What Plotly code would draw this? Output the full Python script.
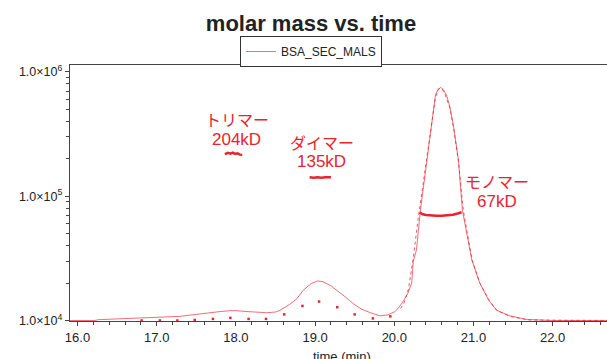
import plotly.graph_objects as go

# ---------------- data ----------------
# Light-scattering chromatogram (solid trace)
ls_time = [15.90, 16.22, 16.26, 16.70, 17.00, 17.29, 17.55, 17.67, 17.80, 17.93, 18.00,
           18.14, 18.39, 18.50, 18.56, 18.68, 18.77, 18.85, 18.95, 19.03, 19.10, 19.20,
           19.27, 19.38, 19.48, 19.58, 19.69, 19.82, 19.92, 20.01, 20.06, 20.11, 20.17,
           20.22, 20.24, 20.28, 20.33, 20.41, 20.47, 20.52, 20.55, 20.586, 20.62, 20.66,
           20.70, 20.75, 20.81, 20.86, 20.98, 21.08, 21.19, 21.29, 21.46, 21.67, 22.00, 22.70]
ls_signal = [1.0e4, 1.0e4, 1.015e4, 1.04e4, 1.06e4, 1.08e4, 1.13e4, 1.16e4, 1.18e4, 1.2e4, 1.2e4,
             1.18e4, 1.155e4, 1.17e4, 1.21e4, 1.35e4, 1.5e4, 1.75e4, 1.98e4, 2.08e4, 2.05e4, 1.9e4,
             1.76e4, 1.55e4, 1.37e4, 1.24e4, 1.16e4, 1.09e4, 1.11e4, 1.18e4, 1.28e4, 1.42e4, 1.65e4,
             2.0e4, 3.0e4, 3.7e4, 7.7e4, 1.95e5, 3.6e5, 6.5e5, 7.2e5, 7.5e5, 7.2e5, 6.5e5,
             5.3e5, 3.6e5, 1.95e5, 7.7e4, 3.05e4, 2.0e4, 1.46e4, 1.21e4, 1.09e4, 1.02e4, 1.0e4, 1.0e4]

# Concentration chromatogram (sparse dots on the baseline, dotted line at the main peak)
ri_dot_time = [16.81, 17.04, 17.26, 17.48, 17.71, 17.93, 18.16, 18.38, 18.61, 18.84,
               19.05, 19.28, 19.50, 19.73, 19.95]
ri_dot_signal = [1.0e4, 1.0e4, 1.0e4, 1.01e4, 1.03e4, 1.05e4, 1.03e4, 1.03e4, 1.12e4, 1.31e4,
                 1.42e4, 1.28e4, 1.12e4, 1.04e4, 1.08e4]
ri_peak_time = [20.08, 20.12, 20.18, 20.24, 20.30, 20.35, 20.41, 20.47, 20.52, 20.56, 20.60,
                20.64, 20.70, 20.75, 20.81, 20.87, 20.98, 21.08, 21.20, 21.30, 21.46, 21.70, 22.70]
ri_peak_signal = [1.25e4, 1.37e4, 1.8e4, 3.2e4, 6.5e4, 1.1e5, 2.1e5, 3.7e5, 6.3e5, 7.3e5, 7.4e5,
                  6.6e5, 5.2e5, 3.5e5, 1.9e5, 7.8e4, 3.1e4, 2.0e4, 1.45e4, 1.2e4, 1.08e4, 1.01e4, 1.0e4]

# Molar mass across the three peaks (g/mol)
trimer_time = [17.86, 17.90, 17.93, 17.96, 17.99, 18.02, 18.05, 18.08]
trimer_mass = [2.18e5, 2.23e5, 2.20e5, 2.24e5, 2.19e5, 2.21e5, 2.16e5, 2.15e5]
dimer_time = [18.93, 18.98, 19.03, 19.08, 19.13, 19.18, 19.20]
dimer_mass = [1.42e5, 1.41e5, 1.42e5, 1.41e5, 1.42e5, 1.41e5, 1.42e5]
monomer_time = [20.32, 20.36, 20.40, 20.46, 20.53, 20.60, 20.67, 20.74, 20.80, 20.85]
monomer_mass = [7.4e4, 7.15e4, 7.05e4, 6.98e4, 6.95e4, 6.97e4, 7.02e4, 7.1e4, 7.25e4, 7.42e4]

# Labels
peak_names = ["トリマー", "ダイマー", "モノマー"]
peak_masses = ["204kD", "135kD", "67kD"]

y_tickvals = [1e4, 1e5, 1e6]
y_ticktext = ["1.0×10<sup>4</sup>", "1.0×10<sup>5</sup>", "1.0×10<sup>6</sup>"]
y_minor = [m * d for d in (1e4, 1e5) for m in range(2, 10)]

# ---------------- figure ----------------
RED = "#e8232d"
FONT = "Liberation Sans, Arial, Helvetica, sans-serif"
JFONT = "Liberation Sans, Noto Sans CJK JP, sans-serif"

fig = go.Figure()
fig.add_trace(go.Scatter(x=ls_time, y=ls_signal, mode="lines", name="BSA_SEC_MALS",
                         line=dict(color="rgba(236,60,75,0.75)", width=1), showlegend=True))
fig.add_trace(go.Scatter(x=ri_peak_time, y=ri_peak_signal, mode="lines",
                         line=dict(color="rgba(236,40,55,0.8)", width=1, dash="dot"), showlegend=False))
fig.add_trace(go.Scatter(x=ri_dot_time, y=ri_dot_signal, mode="markers",
                         marker=dict(color=RED, size=2.5, symbol="square"), showlegend=False))
for tt, mm in ((trimer_time, trimer_mass), (dimer_time, dimer_mass), (monomer_time, monomer_mass)):
    fig.add_trace(go.Scatter(x=tt, y=mm, mode="lines", line=dict(color=RED, width=2.5),
                             showlegend=False))

W, H = 607, 359
L, R, T, B = 70, 0, 65, 38
pw, ph = W - L - R, H - T - B


def px(xp):
    return (xp - L) / pw


def py(yp):
    return (H - B - yp) / ph


label_pos = [((236.7, 120.0), (236.7, 139.0)),
             ((321.7, 143.3), (321.7, 161.7)),
             ((496.5, 182.3), (496.5, 201.7))]
for name, mass, (p1, p2) in zip(peak_names, peak_masses, label_pos):
    fig.add_annotation(x=px(p1[0]), y=py(p1[1]), xref="paper", yref="paper", text=name,
                       showarrow=False, font=dict(family=JFONT, size=16, color=RED),
                       xanchor="center", yanchor="middle")
    fig.add_annotation(x=px(p2[0]), y=py(p2[1]), xref="paper", yref="paper", text=mass,
                       showarrow=False, font=dict(family=FONT, size=17, color=RED),
                       xanchor="center", yanchor="middle")

fig.add_annotation(x=px(342), y=py(356), xref="paper", yref="paper", text="time (min)",
                   showarrow=False, font=dict(family=FONT, size=13, color="#222"),
                   xanchor="center", yanchor="middle")

fig.update_layout(
    width=W, height=H,
    margin=dict(l=L, r=R, t=T, b=B),
    paper_bgcolor="white", plot_bgcolor="white",
    font=dict(family=FONT, color="#222"),
    title=dict(text="molar mass vs. time", x=(311) / W, xanchor="center",
               y=1 - 23 / H, yanchor="middle",
               font=dict(family=FONT, size=22, color="#222", weight="bold")),
    legend=dict(x=px(311), y=py(36), xanchor="center", yanchor="top",
                bordercolor="#333", borderwidth=1, bgcolor="white",
                font=dict(family=FONT, size=12, color="#222"), itemwidth=30),
    xaxis=dict(range=[15.905, 22.686], tick0=16, dtick=1, tickformat=".1f",
               showline=True, linecolor="#444", linewidth=1.3, mirror=True,
               ticks="outside", ticklen=4, tickcolor="#444", showgrid=False, zeroline=False,
               tickfont=dict(size=13, color="#222"),
               minor=dict(dtick=0.2, tick0=16, ticks="outside", ticklen=3, tickcolor="#444",
                          showgrid=False)),
    yaxis=dict(type="log", range=[3.996, 6.0555], tickmode="array", tickvals=y_tickvals,
               ticktext=y_ticktext, showline=True, linecolor="#444", linewidth=1.3,
               ticks="outside", ticklen=4, tickcolor="#444", showgrid=False, zeroline=False,
               tickfont=dict(size=12.5, color="#222"),
               minor=dict(tickmode="array", tickvals=y_minor, ticks="outside", ticklen=3,
                          tickcolor="#444", showgrid=False)),
)

fig.write_html("out.html")
